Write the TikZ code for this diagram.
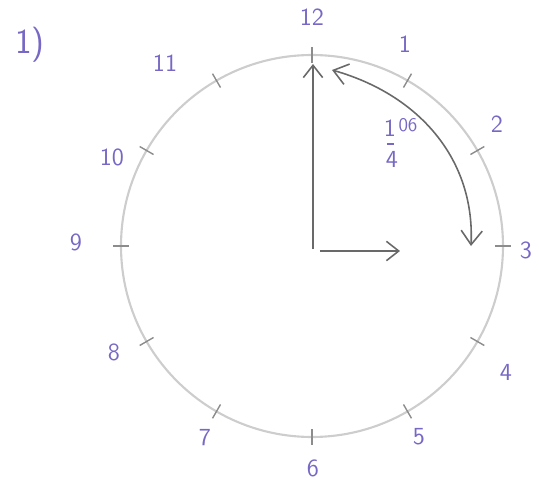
\documentclass[tikz,border=0pt]{standalone}
\usepackage{tikz}
\usetikzlibrary{arrows.meta}

\definecolor{inchiostro}{RGB}{118,104,196}
\definecolor{matita}{RGB}{205,205,205}
\definecolor{tacca}{RGB}{140,140,140}
\definecolor{freccia}{RGB}{105,105,105}

\tikzset{
  cifra/.style={text=inchiostro, font=\sffamily\fontsize{14}{16}\selectfont, inner sep=0pt},
  lancetta/.style={draw=freccia, line width=0.9pt, -{Straight Barb[length=7pt,width=11pt]}}
}

\begin{document}
\begin{tikzpicture}[x=0.02cm, y=-0.02cm]
				\useasboundingbox (0,0) rectangle (539,484);
				% Numero dell'esercizio
				\node[cifra, font=\sffamily\fontsize{20}{22}\selectfont] (numero) at (30, 45) {1)};
				
				% Quadrante dell'orologio
				\coordinate (centro) at (312, 246);
				\draw[matita, line width=1.2pt] (centro) circle (191);
				
				% Tacche delle ore
				\foreach \h in {1,...,12}
					\draw[tacca, line width=0.8pt] ([shift={(centro)}] {30*\h-90}:183) -- ([shift={(centro)}] {30*\h-90}:199);
				
				% Numeri delle ore scritti a mano
				\node[cifra] (ore12) at (312, 17) {12};
				\node[cifra] (ore1) at (405, 44) {1};
				\node[cifra] (ore2) at (497, 124) {2};
				\node[cifra] (ore3) at (526, 250) {3};
				\node[cifra] (ore4) at (506, 372) {4};
				\node[cifra] (ore5) at (419, 437) {5};
				\node[cifra] (ore6) at (313, 468) {6};
				\node[cifra] (ore7) at (205, 438) {7};
				\node[cifra] (ore8) at (114, 352) {8};
				\node[cifra] (ore9) at (76, 242) {9};
				\node[cifra] (ore10) at (112, 157) {10};
				\node[cifra] (ore11) at (165, 63) {11};
				
				% Frazione del giro
				\node[cifra] (num) at (390, 128) {1};
				\node[cifra] (den) at (392, 159) {4};
				\node[cifra, font=\sffamily\fontsize{11}{12}\selectfont] (apice) at (408, 125) {06};
				\draw[inchiostro, line width=0.8pt] (387, 144) -- (394, 144);
				
				% Lancette e quarto di giro
				\coordinate (base12) at (313, 249);
				\coordinate (punta12) at (313, 64);
				\coordinate (base3) at (320, 251);
				\coordinate (punta3) at (400, 251);
				\coordinate (inizio) at (332, 70);
				\coordinate (fine) at (471, 246);
				\draw[lancetta] (base12) -- (punta12);
				\draw[lancetta] (base3) -- (punta3);
				\draw[lancetta, {Straight Barb[length=8pt,width=12pt]}-{Straight Barb[length=8pt,width=12pt]}] (inizio) .. controls (420, 95) and (475, 160) .. (fine);
			\end{tikzpicture}
\end{document}
